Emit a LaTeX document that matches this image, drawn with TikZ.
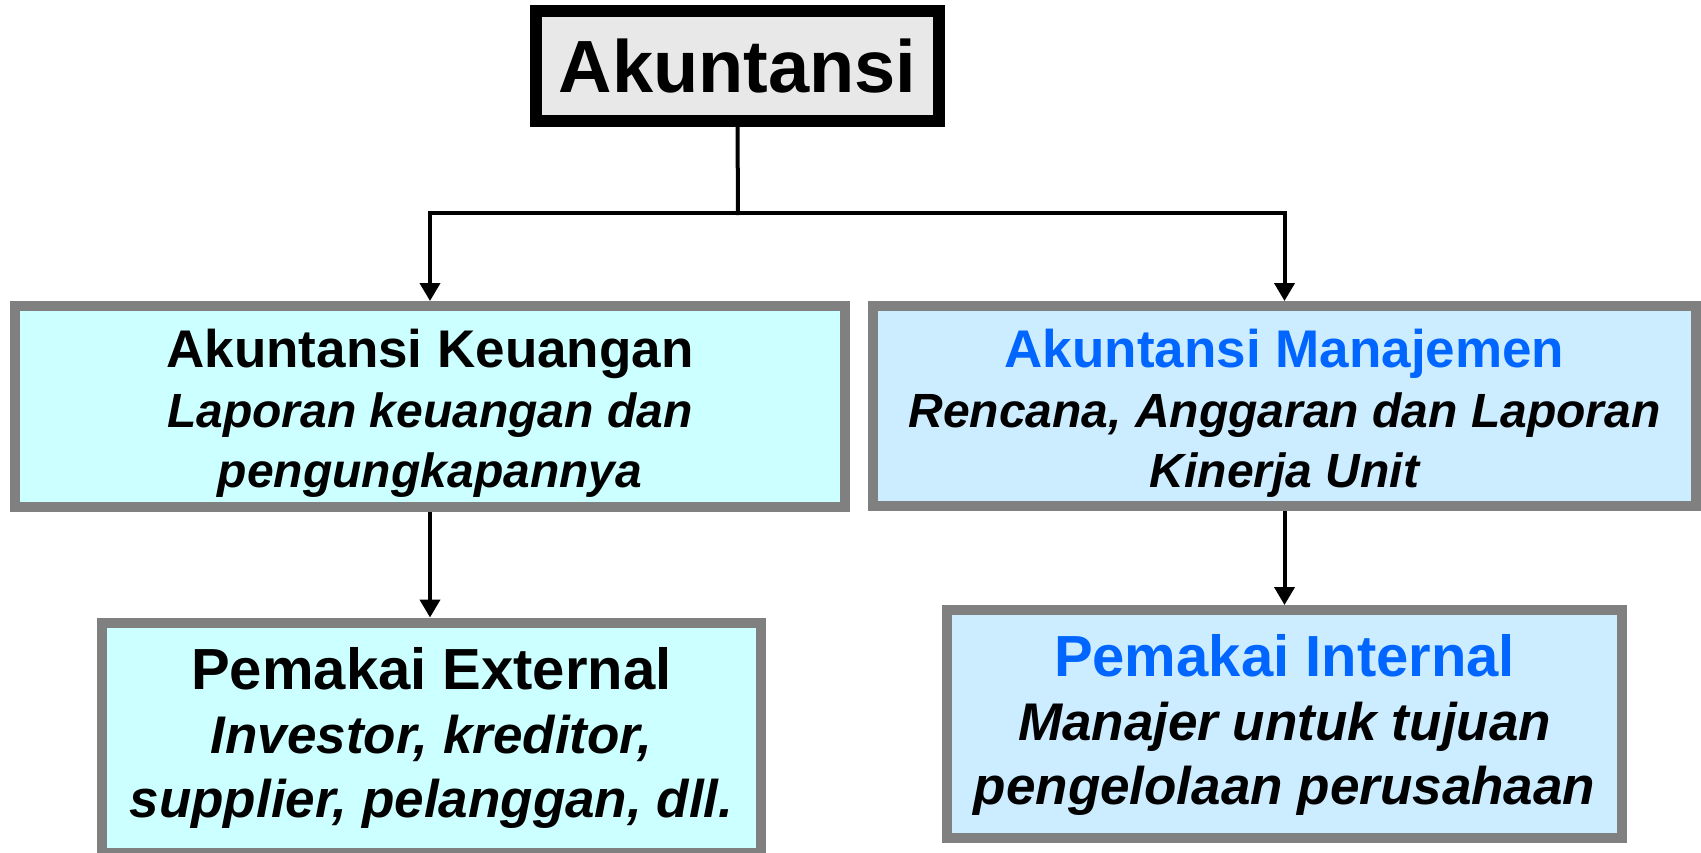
\documentclass[tikz,border=0pt]{standalone}
\usepackage{fontspec}
\setmainfont{Liberation Sans}
\usetikzlibrary{arrows.meta}
\definecolor{cyanfill}{HTML}{CCFFFF}
\definecolor{bluefill}{HTML}{CCECFF}
\definecolor{bordergray}{HTML}{808080}
\definecolor{topfill}{HTML}{E8E8E8}
\definecolor{titleblue}{HTML}{0066FF}
\tikzset{
  box/.style={draw=bordergray, line width=5pt, align=center, inner sep=0pt},
  midfont/.style={font=\bfseries\fontsize{24}{30}\selectfont},
  lowfont/.style={font=\bfseries\fontsize{26.5}{32}\selectfont},
  topbox/.style={draw=black, line width=6pt, fill=topfill, inner sep=0pt, font=\bfseries\fontsize{37}{40}\selectfont},
  conn/.style={line width=2pt, draw=black},
  arr/.style={conn, -{Triangle[width=10pt,length=9pt]}},
}
\begin{document}
\begin{tikzpicture}[x=0.5pt,y=-0.5pt]
\useasboundingbox (0,0) rectangle (1701,852);
\node[topbox, minimum width=201.5pt, minimum height=55pt] (top) at (737.5,66) {Akuntansi};
\node[box, midfont, fill=cyanfill, minimum width=415pt, minimum height=100.5pt] (km) at (430,406.5)
  {{\fontsize{26.5}{30}\selectfont\rule{0pt}{26pt}Akuntansi Keuangan}\\
   \itshape Laporan keuangan dan\\
   \itshape pengungkapannya};
\node[box, midfont, fill=bluefill, minimum width=411.5pt, minimum height=100pt] (mm) at (1284.5,406)
  {{\fontsize{26.5}{30}\selectfont\color{titleblue}\rule{0pt}{26pt}Akuntansi Manajemen}\\
   \itshape Rencana, Anggaran dan Laporan\\
   \itshape Kinerja Unit};
\node[box, lowfont, fill=cyanfill, minimum width=329.5pt, minimum height=115pt] (ext) at (431.5,737.5)
  {{\fontsize{29}{32}\selectfont Pemakai External}\\
   \itshape Investor, kreditor,\\
   \itshape supplier, pelanggan, dll.};
\node[box, lowfont, fill=bluefill, minimum width=337.5pt, minimum height=114pt] (int) at (1284.5,724)
  {{\fontsize{29}{32}\selectfont\color{titleblue}\rule{0pt}{22pt}Pemakai Internal}\\
   \itshape Manajer untuk tujuan\\
   \itshape pengelolaan perusahaan};
\coordinate (j) at (738,213);
\draw[conn, line cap=rect] (top.south) -- (j);
\draw[arr] (j) -| (km.north);
\draw[arr] (j) -| (mm.north);
\draw[arr] (km.south) -- (km.south |- ext.north);
\draw[arr] (mm.south) -- (mm.south |- int.north);
\end{tikzpicture}
\end{document}
